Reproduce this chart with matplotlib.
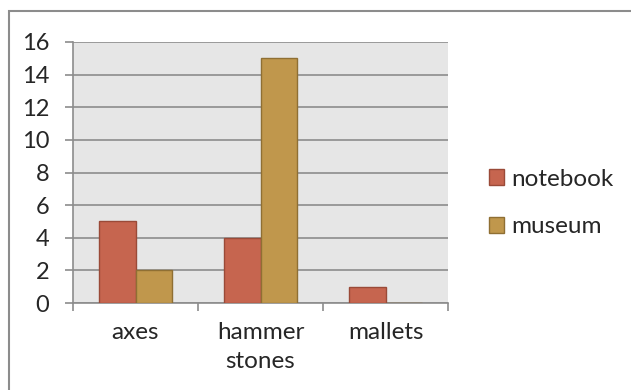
import matplotlib.pyplot as plt
import numpy as np
from matplotlib.patches import Rectangle

categories = ["axes", "hammer\nstones", "mallets"]
notebook = [5, 4, 1]
museum = [2, 15, 0]
series_names = ["notebook", "museum"]
y_ticks = [0, 2, 4, 6, 8, 10, 12, 14, 16]

plt.rcParams["font.family"] = ["Lato", "DejaVu Sans"]
text_color = "#262626"
line_grey = "#8c8c8c"

fig = plt.figure(figsize=(6.31, 3.90), dpi=100)
# chart border: only the top and left edges fall inside the canvas
fig.patches.append(
    Rectangle((9 / 631, -0.1), 1.2, (379 / 390) + 0.1, transform=fig.transFigure,
              facecolor="white", edgecolor=line_grey, linewidth=1.5, zorder=-1)
)

ax = fig.add_axes([73 / 631, 1 - 303 / 390, 375 / 631, 261 / 390])
ax.set_facecolor("#e6e6e6")

x = np.arange(len(categories))
width = 0.29
ax.bar(x - width / 2, notebook, width, color="#c6654f", edgecolor="#9a4a38",
       linewidth=1, label=series_names[0], zorder=3)
ax.bar(x + width / 2, museum, width, color="#c0974c", edgecolor="#8f6f33",
       linewidth=1, label=series_names[1], zorder=3)

ax.set_xlim(-0.5, len(categories) - 0.5)
ax.set_ylim(0, 16)
ax.set_yticks(y_ticks)
ax.yaxis.grid(True, color=line_grey, linewidth=1.2, zorder=0)
ax.set_axisbelow(True)

ax.set_xticks(np.arange(len(categories) + 1) - 0.5)
ax.set_xticklabels([])
ax.set_xticks(x, minor=True)
ax.set_xticklabels(categories, minor=True, fontsize=17.5, linespacing=1.45,
                   color=text_color)
ax.tick_params(axis="x", which="minor", length=0, pad=14)
ax.tick_params(axis="x", which="major", length=6, color=line_grey, width=1.2)
ax.tick_params(axis="y", length=6, color=line_grey, width=1.2, labelsize=17,
               labelcolor=text_color, pad=11)

for side in ["top", "right"]:
    ax.spines[side].set_visible(False)
for side in ["left", "bottom"]:
    ax.spines[side].set_color(line_grey)
    ax.spines[side].set_linewidth(1.2)

leg = fig.legend(loc="center left", bbox_to_anchor=(489 / 631, 1 - 203 / 390),
                 frameon=False, fontsize=17.5, handlelength=0.6, handleheight=0.6,
                 handletextpad=0.3, labelspacing=1.1, borderpad=0, borderaxespad=0)
for t in leg.get_texts():
    t.set_color(text_color)

fig.savefig("out.png", dpi=100)
